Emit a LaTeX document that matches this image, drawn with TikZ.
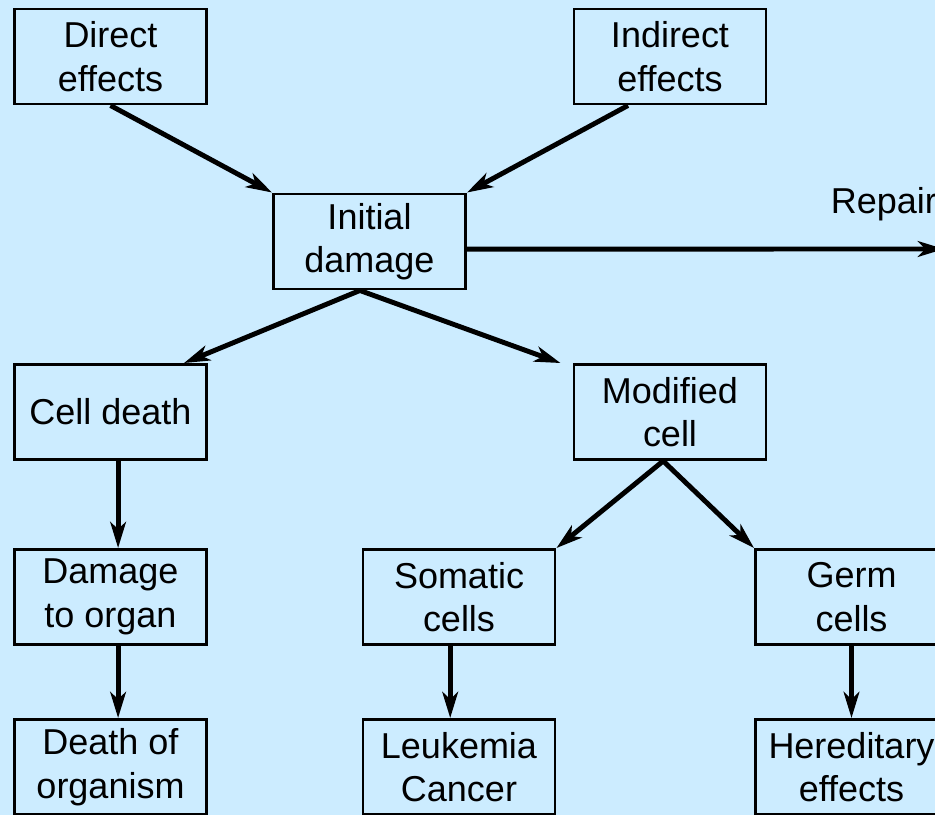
\documentclass[tikz,border=0pt]{standalone}
\usepackage{fontspec}
\setmainfont{Liberation Sans}
\usetikzlibrary{arrows.meta,calc}
\definecolor{bgblue}{RGB}{204,236,255}
\tikzset{box/.style={draw,line width=2.1pt,align=center,minimum width=4.8cm,minimum height=2.375cm,inner sep=0pt,font=\fontsize{25.6}{31}\selectfont},
  arr/.style={-{Stealth[length=6.5mm,width=3.9mm,inset=1.8mm]},line width=3.5pt}}

\begin{document}
\begin{tikzpicture}
\useasboundingbox (0,0) rectangle (23.375,-20.375);
\fill[bgblue] (0,0) rectangle (23.375,-20.375);
\clip (0,0) rectangle (23.375,-20.375);
% boxes
\node[box] (direct) at (2.7625,-1.4125) {Direct\\effects};
\node[box] (indirect) at (16.75,-1.4125) {Indirect\\effects};
\node[box] (initial) at (9.2375,-6.0375) {Initial\\damage};
\node[box] (celldeath) at (2.7625,-10.3) {Cell death};
\node[box] (modified) at (16.75,-10.3) {Modified\\cell};
\node[box] (organ) at (2.7625,-14.925) {Damage\\to organ};
\node[box] (somatic) at (11.475,-14.925) {Somatic\\cells};
\node[box] (germ) at (21.2875,-14.925) {Germ\\cells};
\node[box] (death) at (2.7625,-19.175) {Death of\\organism};
\node[box] (leuk) at (11.475,-19.175) {Leukemia\\Cancer};
\node[box] (hered) at (21.2875,-19.175) {Hereditary\\effects};
\coordinate (repair) at (23.6,-6.225);
\node[anchor=base west,font=\fontsize{25.6}{31}\selectfont] (repairlbl) at (20.65,-5.325) {Repair};
% arrows
\draw[arr] (direct.south) -- (initial.north west);
\draw[arr] ($(indirect.south)+(-1.05,0)$) -- (initial.north east);
\draw[arr] ($(initial.south)+(-0.24,0)$) -- ($(celldeath.north east)+(-0.6,0)$);
\draw[arr] ($(initial.south)+(-0.24,0)$) -- ($(modified.north west)+(-0.3,0)$);
\draw[arr] ($(initial.east)+(0,-0.19)$) -- (repair);
\draw[arr] ($(celldeath.south)+(0.19,0)$) -- ($(organ.north)+(0.19,0)$);
\draw[arr] ($(modified.south)+(-0.17,0)$) -- (somatic.north east);
\draw[arr] ($(modified.south)+(-0.17,0)$) -- (germ.north west);
\draw[arr] ($(organ.south)+(0.19,0)$) -- ($(death.north)+(0.19,0)$);
\draw[arr] ($(somatic.south)+(-0.22,0)$) -- ($(leuk.north)+(-0.22,0)$);
\draw[arr] (germ.south) -- (hered.north);
\end{tikzpicture}
\end{document}
